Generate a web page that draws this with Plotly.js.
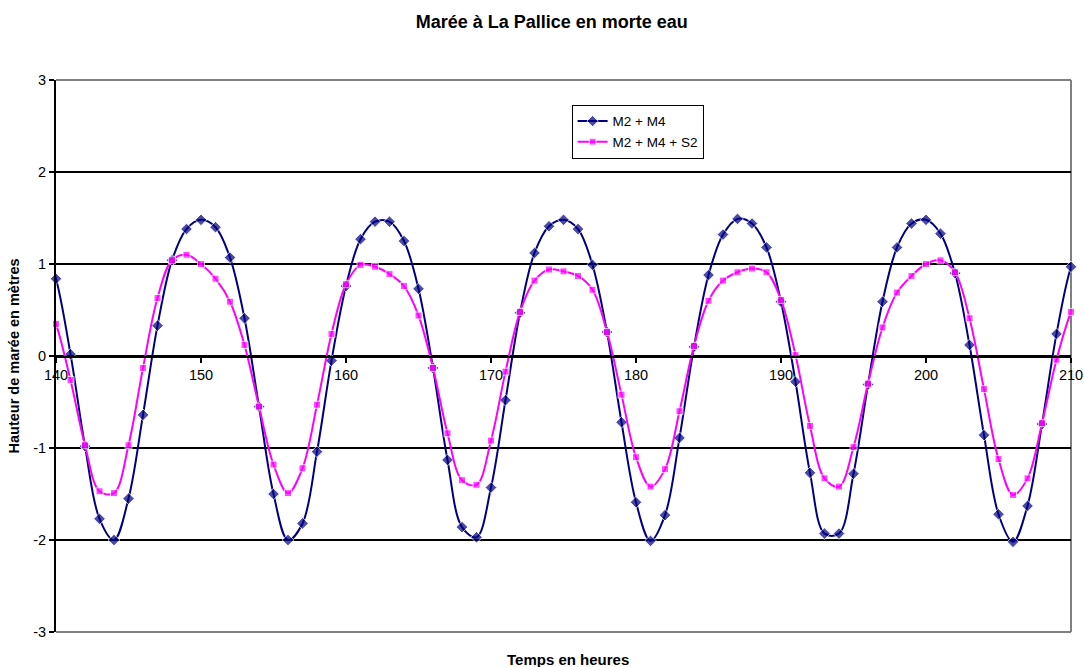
<!DOCTYPE html>
<html>
<head>
<meta charset="utf-8">
<script src="https://cdn.plot.ly/plotly-3.0.1.min.js"></script>
<style>html,body{margin:0;padding:0;background:#fff;}#chart{width:1084px;height:667px;}</style>
</head>
<body>
<div id="chart"></div>
<script>
// Hours (139 and 211 lie just outside the visible axis; only their line segment shows)
var hours = [139,140,141,142,143,144,145,146,147,148,149,150,151,152,153,154,155,156,157,158,159,
  160,161,162,163,164,165,166,167,168,169,170,171,172,173,174,175,176,177,178,179,
  180,181,182,183,184,185,186,187,188,189,190,191,192,193,194,195,196,197,198,199,
  200,201,202,203,204,205,206,207,208,209,210,211];

var m2m4 = [1.30,0.84,0.02,-0.98,-1.77,-2.00,-1.55,-0.64,0.33,1.04,1.38,1.48,1.40,1.07,0.41,-0.55,-1.50,-2.00,-1.82,-1.04,-0.05,
  0.76,1.27,1.46,1.46,1.25,0.73,-0.13,-1.13,-1.86,-1.97,-1.43,-0.48,0.47,1.12,1.41,1.48,1.38,0.99,0.26,-0.72,
  -1.59,-2.01,-1.73,-0.89,0.10,0.88,1.32,1.49,1.44,1.18,0.59,-0.28,-1.27,-1.93,-1.93,-1.28,-0.31,0.59,1.18,1.44,
  1.48,1.33,0.90,0.12,-0.86,-1.72,-2.02,-1.63,-0.74,0.24,0.97,1.35];

var m2m4s2 = [0.75,0.35,-0.26,-0.97,-1.47,-1.49,-0.97,-0.13,0.63,1.04,1.10,1.00,0.84,0.59,0.12,-0.55,-1.18,-1.49,-1.22,-0.53,0.24,
  0.78,0.99,0.97,0.89,0.76,0.44,-0.13,-0.84,-1.35,-1.40,-0.92,-0.17,0.48,0.82,0.94,0.92,0.87,0.72,0.26,-0.42,
  -1.10,-1.42,-1.23,-0.60,0.11,0.60,0.82,0.91,0.95,0.91,0.61,0.01,-0.76,-1.33,-1.42,-0.99,-0.30,0.31,0.69,0.87,
  1.00,1.04,0.91,0.41,-0.36,-1.12,-1.51,-1.33,-0.73,-0.04,0.48,0.82];

var seriesNames = ["M2 + M4", "M2 + M4 + S2"];
var xTickVals = [140,150,160,170,180,190,200,210];
var yTickVals = [-3,-2,-1,0,1,2,3];
var yTickText = ["-3","-2","-1","0","1","2","3"];

var FONT = "Arial, 'Liberation Sans', sans-serif";
var xMin = 140, xMax = 210;
function sizes(base){ return hours.map(function(h){ return (h < xMin || h > xMax) ? 0 : base; }); }

var traces = [
  {
    x: hours, y: m2m4, name: seriesNames[0], type: "scatter", mode: "lines+markers",
    line: {color: "#000080", width: 2, shape: "spline", smoothing: 1},
    marker: {symbol: "diamond", size: sizes(9), color: "#000080"},
    cliponaxis: false
  },
  {
    x: hours, y: m2m4s2, name: seriesNames[1], type: "scatter", mode: "lines+markers",
    line: {color: "#FF00FF", width: 2, shape: "spline", smoothing: 1},
    marker: {symbol: "square", size: sizes(7), color: "#FF00FF"},
    cliponaxis: false
  }
];

var layout = {
  width: 1084, height: 667,
  margin: {l: 56, r: 13, t: 80, b: 35},
  paper_bgcolor: "#fff", plot_bgcolor: "#fff",
  font: {family: FONT, size: 14, color: "#000"},
  title: {
    text: "Marée à La Pallice en morte eau",
    font: {family: FONT, size: 18, weight: "bold", color: "#000"},
    x: 0.509, xref: "container", xanchor: "center",
    y: 1 - 22/667, yref: "container", yanchor: "middle"
  },
  showlegend: true,
  legend: {
    x: 0.508, y: 0.955, xanchor: "left", yanchor: "top",
    bgcolor: "#fff", bordercolor: "#000", borderwidth: 1,
    font: {family: FONT, size: 13.5, color: "#000"},
    tracegroupgap: 0
  },
  xaxis: {
    range: [xMin, xMax], anchor: "free", position: 0.5,
    tickvals: xTickVals, ticks: "outside", ticklen: 5, tickcolor: "#000", tickwidth: 1.5,
    showline: true, linecolor: "#000", linewidth: 1.5,
    showgrid: false, zeroline: false,
    tickfont: {family: FONT, size: 14.5, color: "#000"}
  },
  yaxis: {
    range: [-3, 3], tickvals: yTickVals, ticktext: yTickText,
    ticks: "outside", ticklen: 5, tickcolor: "#000", tickwidth: 1.5,
    showline: true, linecolor: "#000", linewidth: 2,
    showgrid: true, gridcolor: "#000", gridwidth: 1.5, zeroline: false,
    tickfont: {family: FONT, size: 14.5, color: "#000"},
    title: {text: "Hauteur de marée en mètres", standoff: 10,
            font: {family: FONT, size: 14.5, weight: "bold", color: "#000"}}
  },
  shapes: [
    {type: "line", xref: "paper", yref: "paper", x0: 0, x1: 1, y0: 1, y1: 1, line: {color: "#808080", width: 2}, layer: "below"},
    {type: "line", xref: "paper", yref: "paper", x0: 0, x1: 1, y0: 0, y1: 0, line: {color: "#808080", width: 2}, layer: "below"},
    {type: "line", xref: "paper", yref: "paper", x0: 1, x1: 1, y0: 0, y1: 1, line: {color: "#808080", width: 2}, layer: "below"}
  ],
  annotations: [
    {text: "Temps en heures", xref: "paper", yref: "paper", x: 0.504, y: -0.0507,
     xanchor: "center", yanchor: "middle", showarrow: false,
     font: {family: FONT, size: 15, weight: "bold", color: "#000"}}
  ]
};

Plotly.newPlot("chart", traces, layout, {displayModeBar: false, staticPlot: true});
</script>
</body>
</html>
